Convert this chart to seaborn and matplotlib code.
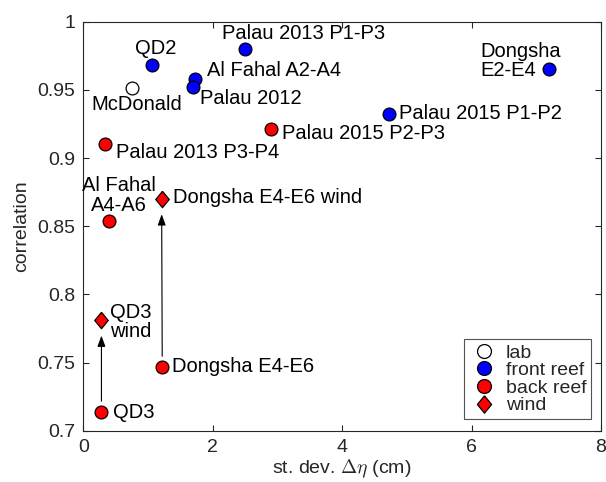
import matplotlib
matplotlib.use("Agg")
import matplotlib.pyplot as plt
from matplotlib.lines import Line2D
import seaborn as sns
import pandas as pd

# Observed correlation vs. standard deviation of setup, per site/instrument pair
names = ["McDonald", "QD2", "Al Fahal A2-A4", "Palau 2012", "Palau 2013 P1-P3",
         "Dongsha E2-E4", "Palau 2015 P1-P2", "Palau 2015 P2-P3", "Palau 2013 P3-P4",
         "Al Fahal A4-A6", "Dongsha E4-E6 wind", "QD3 wind", "Dongsha E4-E6", "QD3"]
labels = ["McDonald", "QD2", "Al Fahal A2-A4", "Palau 2012", "Palau 2013 P1-P3",
          "Dongsha\nE2-E4", "Palau 2015 P1-P2", "Palau 2015 P2-P3", "Palau 2013 P3-P4",
          "Al Fahal\nA4-A6", "Dongsha E4-E6 wind", "QD3\nwind", "Dongsha E4-E6", "QD3"]
std_eta = [0.75, 1.06, 1.73, 1.70, 2.50, 7.19, 4.73, 2.90, 0.34, 0.40, 1.21, 0.28, 1.22, 0.28]
corr = [0.951, 0.968, 0.958, 0.952, 0.980, 0.965, 0.932, 0.921, 0.910, 0.854,
        0.870, 0.781, 0.747, 0.714]
group = ["lab", "front reef", "front reef", "front reef", "front reef", "front reef",
         "front reef", "back reef", "back reef", "back reef", "wind", "wind",
         "back reef", "back reef"]
legend_order = ["lab", "front reef", "back reef", "wind"]
# wind-corrected points and the uncorrected point each one comes from
wind_pairs = [("QD3", "QD3 wind"), ("Dongsha E4-E6", "Dongsha E4-E6 wind")]

xticks = [0, 2, 4, 6, 8]
yticks = [0.7, 0.75, 0.8, 0.85, 0.9, 0.95, 1.0]
ytick_labels = ["0.7", "0.75", "0.8", "0.85", "0.9", "0.95", "1"]

df = pd.DataFrame({"name": names, "label": labels, "std": std_eta,
                   "corr": corr, "group": group})

# label placement: (dx, dy) in pixels from the marker to the last baseline,
# horizontal alignment
label_layout = {
    "McDonald": (5, -22, "center"),
    "QD2": (4, 11, "center"),
    "Al Fahal A2-A4": (12, 3, "left"),
    "Palau 2012": (7, -17, "left"),
    "Palau 2013 P1-P3": (-23, 10, "left"),
    "Dongsha E2-E4": (-68, -7, "left"),
    "Palau 2015 P1-P2": (10, -5, "left"),
    "Palau 2015 P2-P3": (11, -10, "left"),
    "Palau 2013 P3-P4": (11, -14, "left"),
    "Al Fahal A4-A6": (10, 10, "center"),
    "Dongsha E4-E6 wind": (11, -4, "left"),
    "QD3 wind": (9, -17, "left"),
    "Dongsha E4-E6": (10, -5, "left"),
    "QD3": (12, -6, "left"),
}

sns.set_theme(style="ticks")
plt.rcParams["font.family"] = ["Liberation Sans", "DejaVu Sans"]
plt.rcParams["mathtext.fontset"] = "cm"

palette = {"lab": "white", "front reef": "#0000ff", "back reef": "#ff0000", "wind": "#ff0000"}
diamond = [(0, 1), (0.82, 0), (0, -1), (-0.82, 0), (0, 1)]
markers = {"lab": "o", "front reef": "o", "back reef": "o", "wind": diamond}
sizes = {"lab": 85, "front reef": 85, "back reef": 85, "wind": 140}

fig = plt.figure(figsize=(6.06, 4.82), dpi=100)
ax = fig.add_axes([0.1375, 0.1064, 0.8541, 0.8486])

# arrows from each uncorrected point to its wind-corrected counterpart
lookup = df.set_index("name")
for src, dst in wind_pairs:
    ax.annotate("", xy=(lookup.loc[dst, "std"], lookup.loc[dst, "corr"]),
                xytext=(lookup.loc[src, "std"], lookup.loc[src, "corr"]),
                arrowprops=dict(arrowstyle="-|>,head_length=0.55,head_width=0.2",
                                color="black", lw=0.8, shrinkA=7.5, shrinkB=11),
                zorder=2)

for g in legend_order:
    sub = df[df["group"] == g]
    sns.scatterplot(data=sub, x="std", y="corr", ax=ax, color=palette[g],
                    marker=markers[g], s=sizes[g], edgecolor="black",
                    linewidth=0.9, legend=False, zorder=3)

for _, row in df.iterrows():
    dx, dy, ha = label_layout[row["name"]]
    ax.annotate(row["label"], xy=(row["std"], row["corr"]), xytext=(dx, dy),
                textcoords="offset pixels", ha=ha, va="baseline",
                multialignment=ha, fontsize=14.5, color="black",
                linespacing=1.05, zorder=4)

ax.set_xlim(0, 8)
ax.set_ylim(0.7, 1.0)
ax.set_xticks(xticks)
ax.set_xticklabels([str(t) for t in xticks])
ax.set_yticks(yticks)
ax.set_yticklabels(ytick_labels)
ax.tick_params(direction="in", length=4, width=0.8, top=True, right=True,
               labelsize=14, colors="#262626", labelcolor="#262626")
ax.tick_params(axis="x", pad=6)
ax.tick_params(axis="y", pad=6)
for sp in ax.spines.values():
    sp.set_visible(True)
    sp.set_color("#262626")
    sp.set_linewidth(0.8)

ax.set_xlabel(r"st. dev. $\Delta\eta$ (cm)", fontsize=14, color="#262626", labelpad=1)
ax.set_ylabel("correlation", fontsize=14, color="#262626", labelpad=5)

handles = []
for g in legend_order:
    handles.append(Line2D([], [], linestyle="none", marker=markers[g],
                          markersize=10 if g != "wind" else 12.5,
                          markerfacecolor=palette[g], markeredgecolor="black",
                          markeredgewidth=0.9, label=g))
leg = ax.legend(handles=handles, loc="lower right", bbox_to_anchor=(0.981, 0.028),
                frameon=True, fancybox=False, edgecolor="#262626", fontsize=14,
                handletextpad=0.3, labelspacing=0.0, borderpad=0.25,
                handlelength=1.6, borderaxespad=0)
leg.get_frame().set_linewidth(0.8)

fig.savefig("out.png", dpi=100)
